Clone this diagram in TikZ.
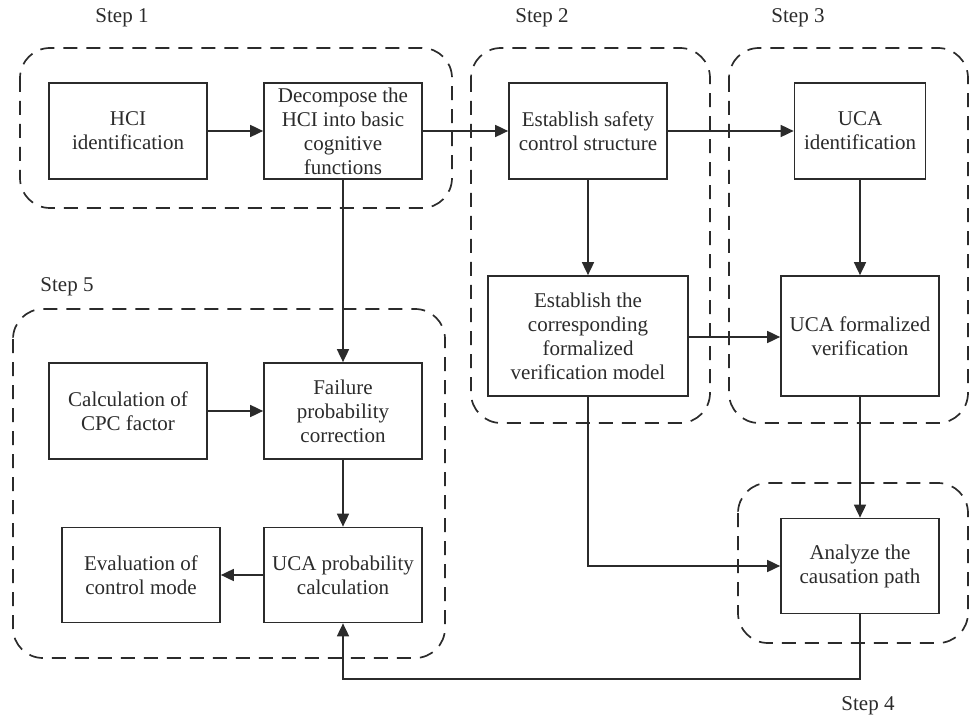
\documentclass[tikz,border=0pt]{standalone}
\usepackage{fontspec}
\setmainfont{Liberation Serif}
\usetikzlibrary{arrows.meta}
\definecolor{ink}{HTML}{2B2B2B}
\tikzset{
  box/.style={draw=ink, line width=1.7pt, fill=white, align=center, inner sep=0pt,
              font=\fontsize{21}{24}\selectfont, text=ink},
  group/.style={draw=ink, line width=1.7pt, dash pattern=on 14pt off 9pt, rounded corners=30pt},
  flow/.style={draw=ink, line width=1.7pt, -{Triangle[length=13pt,width=12pt]}},
  steplabel/.style={font=\fontsize{21}{24}\selectfont, text=ink, inner sep=0pt},
}
\begin{document}
\begin{tikzpicture}[x=1pt,y=-1pt]
\useasboundingbox (0,0) rectangle (969,719);

% step groups
\draw[group] (20,48) rectangle (452,208);
\draw[group] (471,48) rectangle (710,423);
\draw[group] (729,48) rectangle (968,423);
\draw[group] (738,483) rectangle (968,643);
\draw[group] (13,309) rectangle (445,658);

\node[steplabel] (l1) at (122,18) {Step 1};
\node[steplabel] (l2) at (542,18) {Step 2};
\node[steplabel] (l3) at (798,18) {Step 3};
\node[steplabel] (l5) at (67,287) {Step 5};
\node[steplabel] (l4) at (868,706) {Step 4};

% process boxes
\node[box, minimum width=158pt, minimum height=96pt] (hci) at (128,131) {HCI\\identification};
\node[box, minimum width=158pt, minimum height=96pt] (dec) at (343,131) {Decompose the\\HCI into basic\\cognitive\\functions};
\node[box, minimum width=158pt, minimum height=96pt] (esc) at (588,131) {Establish safety\\control structure};
\node[box, minimum width=131pt, minimum height=96pt] (ucaid) at (860,131) {UCA\\identification};
\node[box, minimum width=200pt, minimum height=120pt] (model) at (588,336) {Establish the\\corresponding\\formalized\\verification model};
\node[box, minimum width=158pt, minimum height=120pt] (ucaf) at (860,336) {UCA formalized\\verification};
\node[box, minimum width=158pt, minimum height=96pt] (cpc) at (128,411) {Calculation of\\CPC factor};
\node[box, minimum width=158pt, minimum height=96pt] (fail) at (343,411) {Failure\\probability\\correction};
\node[box, minimum width=158pt, minimum height=95pt] (eval) at (141,575) {Evaluation of\\control mode};
\node[box, minimum width=158pt, minimum height=95pt] (ucap) at (343,575) {UCA probability\\calculation};
\node[box, minimum width=158pt, minimum height=95pt] (ana) at (860,566) {Analyze the\\causation path};

% connectors
\draw[flow] (hci) -- (dec);
\draw[flow] (dec) -- (esc);
\draw[flow] (esc) -- (ucaid);
\draw[flow] (dec) -- (fail);
\draw[flow] (esc) -- (model);
\draw[flow] (ucaid) -- (ucaf);
\draw[flow] (model.east |- 0,337) -- (ucaf.west |- 0,337);
\draw[flow] (model.south) |- (ana.west);
\draw[flow] (ucaf) -- (ana);
\draw[flow] (cpc) -- (fail);
\draw[flow] (fail) -- (ucap);
\draw[flow] (ucap) -- (eval);
\coordinate (ret) at (860,679);
\draw[flow] (ana.south) -- (ret) -| (ucap.south);
\end{tikzpicture}
\end{document}
